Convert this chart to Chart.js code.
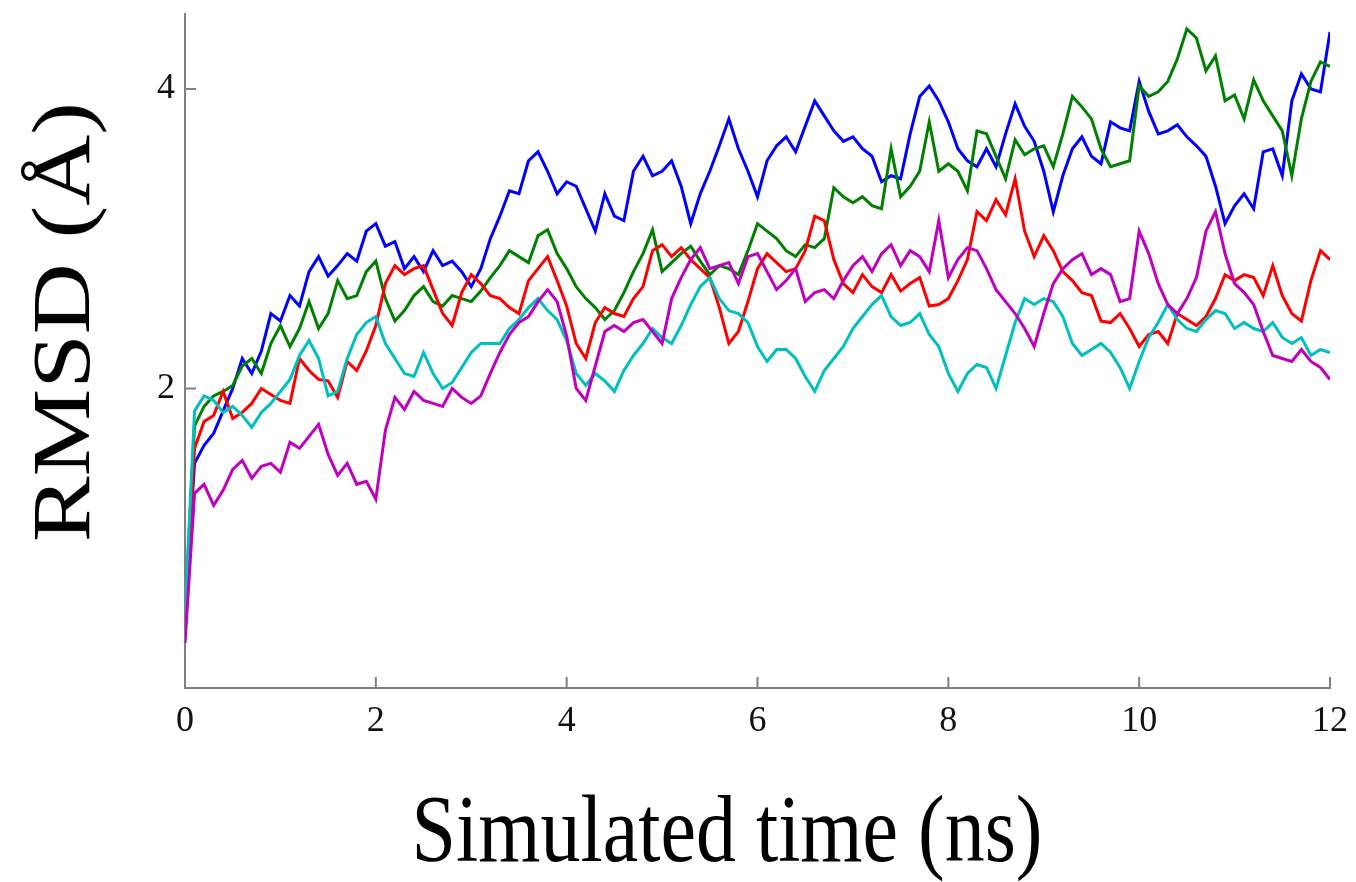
<!DOCTYPE html>
<html>
<head>
<meta charset="utf-8">
<script src="https://cdn.jsdelivr.net/npm/chart.js@4.4.1/dist/chart.umd.min.js"></script>
<style>
  html, body { margin: 0; padding: 0; background: #fff; }
  #wrap { position: relative; width: 1356px; height: 882px; }
  #rmsdChart { position: absolute; left: 0; top: 0; }
  .axisTitle {
    position: absolute;
    font-family: "Liberation Serif", "Times New Roman", serif;
    color: #000;
    white-space: nowrap;
    line-height: normal;
    transform-origin: 0 0;
  }
</style>
</head>
<body>
<div id="wrap">
  <canvas id="rmsdChart" width="1356" height="882"></canvas>
  <div class="axisTitle" id="xTitle" style="left:727px;top:829px;font-size:80px;transform:scaleY(1.2) translate(-50%,-50%);">Simulated time (ns)</div>
  <div class="axisTitle" id="yTitle" style="left:62px;top:322px;font-size:82px;transform:scaleY(1.2) rotate(-90deg) translate(-50%,-50%);">RMSD (Å)</div>
</div>
<script>
// sample times, every 0.1 ns from 0 to 12
var timeNs = Array.from({ length: 121 }, (_, i) => i / 10);

var xTicks = [0, 2, 4, 6, 8, 10, 12];
var yTicks = [2, 4];

// RMSD (Å), one value per 0.1 ns
var rmsdBlue = [
  0.5,1.5,1.62,1.7,1.85,2.0,2.2,2.1,2.25,2.5,
  2.45,2.62,2.55,2.78,2.88,2.75,2.82,2.9,2.85,3.05,
  3.1,2.95,2.98,2.8,2.88,2.78,2.92,2.82,2.85,2.78,
  2.68,2.8,3.0,3.15,3.32,3.3,3.52,3.58,3.45,3.3,
  3.38,3.35,3.2,3.05,3.3,3.15,3.12,3.45,3.55,3.42,
  3.45,3.52,3.35,3.1,3.3,3.45,3.62,3.8,3.6,3.45,
  3.28,3.52,3.62,3.68,3.58,3.75,3.92,3.82,3.72,3.65,
  3.68,3.6,3.55,3.38,3.42,3.4,3.7,3.95,4.02,3.92,
  3.78,3.6,3.52,3.48,3.6,3.48,3.7,3.9,3.75,3.65,
  3.45,3.18,3.42,3.6,3.68,3.55,3.5,3.78,3.74,3.72,
  4.05,3.85,3.7,3.72,3.76,3.68,3.62,3.55,3.35,3.1,
  3.22,3.3,3.2,3.58,3.6,3.42,3.92,4.1,4.0,3.98,
  4.38
];
var rmsdGreen = [
  0.5,1.75,1.88,1.95,1.98,2.02,2.15,2.2,2.1,2.3,
  2.42,2.28,2.4,2.58,2.4,2.5,2.72,2.6,2.62,2.78,
  2.85,2.6,2.45,2.52,2.62,2.68,2.58,2.55,2.62,2.6,
  2.58,2.65,2.74,2.82,2.92,2.88,2.84,3.02,3.06,2.9,
  2.8,2.68,2.6,2.54,2.46,2.52,2.64,2.78,2.9,3.06,
  2.78,2.84,2.9,2.95,2.85,2.76,2.82,2.8,2.76,2.92,
  3.1,3.05,3.0,2.92,2.88,2.96,2.94,3.0,3.34,3.28,
  3.24,3.28,3.22,3.2,3.6,3.28,3.35,3.45,3.78,3.45,
  3.5,3.45,3.32,3.72,3.7,3.55,3.4,3.66,3.56,3.6,
  3.62,3.48,3.7,3.95,3.88,3.8,3.6,3.48,3.5,3.52,
  4.02,3.95,3.98,4.05,4.2,4.4,4.34,4.12,4.22,3.92,
  3.96,3.8,4.06,3.92,3.82,3.72,3.42,3.8,4.05,4.18,
  4.15
];
var rmsdRed = [
  0.5,1.6,1.78,1.82,1.98,1.8,1.84,1.9,2.0,1.96,
  1.92,1.9,2.2,2.12,2.06,2.05,1.94,2.18,2.12,2.25,
  2.42,2.7,2.82,2.76,2.8,2.82,2.66,2.5,2.42,2.64,
  2.76,2.7,2.62,2.6,2.54,2.5,2.72,2.8,2.88,2.72,
  2.55,2.3,2.2,2.44,2.54,2.5,2.48,2.6,2.68,2.92,
  2.96,2.88,2.94,2.86,2.8,2.74,2.54,2.3,2.38,2.58,
  2.8,2.9,2.84,2.78,2.8,2.92,3.15,3.12,2.86,2.7,
  2.64,2.76,2.68,2.64,2.76,2.65,2.7,2.74,2.55,2.56,
  2.6,2.72,2.86,3.18,3.12,3.26,3.16,3.4,3.05,2.88,
  3.02,2.92,2.78,2.72,2.64,2.62,2.45,2.44,2.5,2.4,
  2.28,2.36,2.38,2.3,2.5,2.46,2.42,2.48,2.6,2.76,
  2.72,2.76,2.74,2.62,2.82,2.62,2.5,2.45,2.72,2.92,
  2.86
];
var rmsdCyan = [
  0.5,1.85,1.95,1.92,1.84,1.88,1.82,1.74,1.84,1.9,
  1.98,2.06,2.22,2.32,2.2,1.95,1.98,2.2,2.36,2.44,
  2.48,2.3,2.2,2.1,2.08,2.24,2.1,2.0,2.04,2.14,
  2.24,2.3,2.3,2.3,2.4,2.46,2.54,2.6,2.52,2.46,
  2.32,2.1,2.02,2.1,2.05,1.98,2.12,2.22,2.3,2.4,
  2.34,2.3,2.42,2.56,2.68,2.74,2.6,2.52,2.5,2.44,
  2.28,2.18,2.26,2.26,2.2,2.08,1.98,2.12,2.2,2.28,
  2.4,2.48,2.56,2.62,2.48,2.42,2.44,2.5,2.36,2.28,
  2.1,1.98,2.1,2.16,2.14,2.0,2.22,2.44,2.6,2.56,
  2.6,2.58,2.48,2.3,2.22,2.26,2.3,2.24,2.14,2.0,
  2.18,2.34,2.44,2.56,2.46,2.4,2.38,2.46,2.52,2.5,
  2.4,2.44,2.4,2.38,2.44,2.34,2.3,2.34,2.22,2.26,
  2.24
];
var rmsdMagenta = [
  0.3,1.3,1.36,1.22,1.32,1.46,1.52,1.4,1.48,1.5,
  1.44,1.64,1.6,1.68,1.76,1.56,1.42,1.5,1.36,1.38,
  1.26,1.72,1.94,1.86,1.98,1.92,1.9,1.88,2.0,1.94,
  1.9,1.95,2.1,2.24,2.36,2.44,2.48,2.58,2.66,2.58,
  2.35,2.0,1.92,2.15,2.38,2.42,2.38,2.44,2.46,2.38,
  2.3,2.6,2.74,2.86,2.94,2.8,2.82,2.84,2.7,2.88,
  2.9,2.78,2.66,2.72,2.8,2.58,2.64,2.66,2.6,2.72,
  2.82,2.88,2.78,2.9,2.96,2.82,2.92,2.88,2.78,3.12,
  2.74,2.86,2.94,2.92,2.8,2.66,2.58,2.5,2.4,2.28,
  2.5,2.7,2.8,2.86,2.9,2.76,2.8,2.76,2.58,2.6,
  3.05,2.9,2.7,2.56,2.5,2.6,2.74,3.05,3.18,2.9,
  2.7,2.64,2.56,2.38,2.22,2.2,2.18,2.26,2.18,2.14,
  2.06
];

var seriesColors = ['#0000ff', '#008000', '#ff0000', '#00bfbf', '#bf00bf'];

function toPoints(vals) {
  return vals.map((v, i) => ({ x: timeNs[i], y: v }));
}

function makeSet(label, vals, color, order) {
  return {
    label: label,
    data: toPoints(vals),
    borderColor: color,
    backgroundColor: color,
    borderWidth: 3,
    pointRadius: 0,
    tension: 0,
    fill: false,
    order: order
  };
}

// short tick marks drawn inside the axes, like the original figure
var innerTicks = {
  id: 'innerTicks',
  afterDatasetsDraw(chart) {
    var ctx = chart.ctx;
    var xs = chart.scales.x, ys = chart.scales.y;
    var area = chart.chartArea;
    ctx.save();
    ctx.strokeStyle = '#808080';
    ctx.lineWidth = 2;
    ctx.beginPath();
    xs.ticks.forEach(function(t) {
      var px = xs.getPixelForValue(t.value);
      ctx.moveTo(px, area.bottom);
      ctx.lineTo(px, area.bottom - 11);
    });
    ys.ticks.forEach(function(t) {
      var py = ys.getPixelForValue(t.value);
      ctx.moveTo(area.left, py);
      ctx.lineTo(area.left + 11, py);
    });
    ctx.stroke();
    ctx.restore();
  }
};

var tickFont = { family: '"Liberation Serif", "Times New Roman", serif', size: 36 };

new Chart(document.getElementById('rmsdChart').getContext('2d'), {
  type: 'line',
  data: {
    datasets: [
      makeSet('Run 1', rmsdBlue, seriesColors[0], 5),
      makeSet('Run 2', rmsdGreen, seriesColors[1], 4),
      makeSet('Run 3', rmsdRed, seriesColors[2], 3),
      makeSet('Run 4', rmsdCyan, seriesColors[3], 2),
      makeSet('Run 5', rmsdMagenta, seriesColors[4], 1)
    ]
  },
  options: {
    responsive: false,
    animation: false,
    devicePixelRatio: 1,
    layout: { padding: { top: 14, right: 26, left: 0, bottom: 0 } },
    plugins: {
      legend: { display: false },
      tooltip: { enabled: false }
    },
    scales: {
      x: {
        type: 'linear',
        min: 0,
        max: 12,
        afterBuildTicks: function(scale) { scale.ticks = xTicks.map(v => ({ value: v })); },
        afterFit: function(scale) {
          scale.height = 194;
          scale.paddingLeft = 0;
          scale.paddingRight = 0;
        },
        grid: { display: false, drawTicks: false },
        border: { display: true, color: '#808080', width: 2 },
        ticks: { color: '#111', font: tickFont, padding: 12, maxRotation: 0 }
      },
      y: {
        type: 'linear',
        min: 0,
        max: 4.5,
        afterBuildTicks: function(scale) { scale.ticks = yTicks.map(v => ({ value: v })); },
        afterFit: function(scale) {
          scale.width = 185;
          scale.paddingTop = 0;
          scale.paddingBottom = 0;
        },
        grid: { display: false, drawTicks: false },
        border: { display: true, color: '#808080', width: 2 },
        ticks: { color: '#111', font: tickFont, padding: 10 }
      }
    }
  },
  plugins: [innerTicks]
});
</script>
</body>
</html>
